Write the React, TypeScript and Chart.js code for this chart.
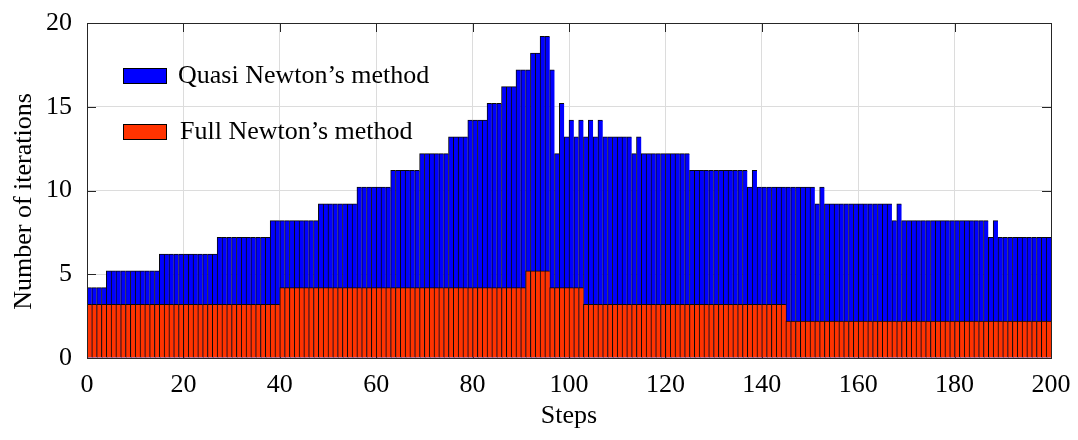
import React, { useEffect, useRef } from 'react';
import { Chart, registerables } from 'chart.js';

Chart.register(...registerables);

// Step labels (categories), 200 steps
const steps: string[] = Array.from({ length: 200 }, (_, i) => String(i + 1));

// Number of iterations per step
const quasiNewton: number[] = [
  4.2, 4.2, 4.2, 4.2, 5.2, 5.2, 5.2, 5.2, 5.2, 5.2,
  5.2, 5.2, 5.2, 5.2, 5.2, 6.2, 6.2, 6.2, 6.2, 6.2,
  6.2, 6.2, 6.2, 6.2, 6.2, 6.2, 6.2, 7.2, 7.2, 7.2,
  7.2, 7.2, 7.2, 7.2, 7.2, 7.2, 7.2, 7.2, 8.2, 8.2,
  8.2, 8.2, 8.2, 8.2, 8.2, 8.2, 8.2, 8.2, 9.2, 9.2,
  9.2, 9.2, 9.2, 9.2, 9.2, 9.2, 10.2, 10.2, 10.2, 10.2,
  10.2, 10.2, 10.2, 11.2, 11.2, 11.2, 11.2, 11.2, 11.2, 12.2,
  12.2, 12.2, 12.2, 12.2, 12.2, 13.2, 13.2, 13.2, 13.2, 14.2,
  14.2, 14.2, 14.2, 15.2, 15.2, 15.2, 16.2, 16.2, 16.2, 17.2,
  17.2, 17.2, 18.2, 18.2, 19.2, 19.2, 17.2, 12.2, 15.2, 13.2,
  14.2, 13.2, 14.2, 13.2, 14.2, 13.2, 14.2, 13.2, 13.2, 13.2,
  13.2, 13.2, 13.2, 12.2, 13.2, 12.2, 12.2, 12.2, 12.2, 12.2,
  12.2, 12.2, 12.2, 12.2, 12.2, 11.2, 11.2, 11.2, 11.2, 11.2,
  11.2, 11.2, 11.2, 11.2, 11.2, 11.2, 11.2, 10.2, 11.2, 10.2,
  10.2, 10.2, 10.2, 10.2, 10.2, 10.2, 10.2, 10.2, 10.2, 10.2,
  10.2, 9.2, 10.2, 9.2, 9.2, 9.2, 9.2, 9.2, 9.2, 9.2,
  9.2, 9.2, 9.2, 9.2, 9.2, 9.2, 9.2, 8.2, 9.2, 8.2,
  8.2, 8.2, 8.2, 8.2, 8.2, 8.2, 8.2, 8.2, 8.2, 8.2,
  8.2, 8.2, 8.2, 8.2, 8.2, 8.2, 8.2, 7.2, 8.2, 7.2,
  7.2, 7.2, 7.2, 7.2, 7.2, 7.2, 7.2, 7.2, 7.2, 7.2,
];

const fullNewton: number[] = [
  3.2, 3.2, 3.2, 3.2, 3.2, 3.2, 3.2, 3.2, 3.2, 3.2,
  3.2, 3.2, 3.2, 3.2, 3.2, 3.2, 3.2, 3.2, 3.2, 3.2,
  3.2, 3.2, 3.2, 3.2, 3.2, 3.2, 3.2, 3.2, 3.2, 3.2,
  3.2, 3.2, 3.2, 3.2, 3.2, 3.2, 3.2, 3.2, 3.2, 3.2,
  4.2, 4.2, 4.2, 4.2, 4.2, 4.2, 4.2, 4.2, 4.2, 4.2,
  4.2, 4.2, 4.2, 4.2, 4.2, 4.2, 4.2, 4.2, 4.2, 4.2,
  4.2, 4.2, 4.2, 4.2, 4.2, 4.2, 4.2, 4.2, 4.2, 4.2,
  4.2, 4.2, 4.2, 4.2, 4.2, 4.2, 4.2, 4.2, 4.2, 4.2,
  4.2, 4.2, 4.2, 4.2, 4.2, 4.2, 4.2, 4.2, 4.2, 4.2,
  4.2, 5.2, 5.2, 5.2, 5.2, 5.2, 4.2, 4.2, 4.2, 4.2,
  4.2, 4.2, 4.2, 3.2, 3.2, 3.2, 3.2, 3.2, 3.2, 3.2,
  3.2, 3.2, 3.2, 3.2, 3.2, 3.2, 3.2, 3.2, 3.2, 3.2,
  3.2, 3.2, 3.2, 3.2, 3.2, 3.2, 3.2, 3.2, 3.2, 3.2,
  3.2, 3.2, 3.2, 3.2, 3.2, 3.2, 3.2, 3.2, 3.2, 3.2,
  3.2, 3.2, 3.2, 3.2, 3.2, 2.2, 2.2, 2.2, 2.2, 2.2,
  2.2, 2.2, 2.2, 2.2, 2.2, 2.2, 2.2, 2.2, 2.2, 2.2,
  2.2, 2.2, 2.2, 2.2, 2.2, 2.2, 2.2, 2.2, 2.2, 2.2,
  2.2, 2.2, 2.2, 2.2, 2.2, 2.2, 2.2, 2.2, 2.2, 2.2,
  2.2, 2.2, 2.2, 2.2, 2.2, 2.2, 2.2, 2.2, 2.2, 2.2,
  2.2, 2.2, 2.2, 2.2, 2.2, 2.2, 2.2, 2.2, 2.2, 2.2,
];

const seriesLabels = ['Quasi Newton\u2019s method', 'Full Newton\u2019s method'];
const seriesColors = ['#0000ff', '#ff3300'];
const xAxisTitle = 'Steps';
const yAxisTitle = 'Number of iterations';
const xRange = [0, 200];
const xStep = 20;
const yRange = [0, 20];
const yStep = 5;

const FONT = "'Liberation Serif', 'Times New Roman', serif";
const AXIS_COLOR = '#262626';
const GRID_COLOR = '#dcdcdc';

const framePlugin = {
  id: 'frame',
  beforeDatasetsDraw(chart: any) {
    const { ctx, chartArea: a, scales } = chart;
    const len = 9;
    ctx.save();
    ctx.strokeStyle = AXIS_COLOR;
    ctx.lineWidth = 1;
    ctx.beginPath();
    scales.x.ticks.forEach((t: any) => {
      const px = Math.round(scales.x.getPixelForValue(t.value)) + 0.5;
      ctx.moveTo(px, a.top);
      ctx.lineTo(px, a.top + len);
      ctx.moveTo(px, a.bottom);
      ctx.lineTo(px, a.bottom - len);
    });
    scales.y.ticks.forEach((t: any) => {
      const py = Math.round(scales.y.getPixelForValue(t.value)) + 0.5;
      ctx.moveTo(a.left, py);
      ctx.lineTo(a.left + len, py);
      ctx.moveTo(a.right, py);
      ctx.lineTo(a.right - len, py);
    });
    ctx.stroke();
    ctx.restore();
  },
  afterDatasetsDraw(chart: any) {
    const { ctx, chartArea: a } = chart;
    ctx.save();
    ctx.strokeStyle = AXIS_COLOR;
    ctx.lineWidth = 1;
    ctx.strokeRect(Math.round(a.left) + 0.5, Math.round(a.top) + 0.5,
      Math.round(a.right) - Math.round(a.left), Math.round(a.bottom) - Math.round(a.top));

    // legend inside the plot, top-left
    const boxX = a.left + 36;
    const boxW = 43;
    const boxH = 15;
    const rows = [45, 101];
    ctx.font = `26px ${FONT}`;
    ctx.textBaseline = 'alphabetic';
    ctx.textAlign = 'left';
    seriesLabels.forEach((label, i) => {
      const y = a.top + rows[i];
      ctx.fillStyle = seriesColors[i];
      ctx.fillRect(boxX, y, boxW, boxH);
      ctx.strokeStyle = '#000';
      ctx.strokeRect(Math.round(boxX) + 0.5, Math.round(y) + 0.5, boxW, boxH);
      ctx.fillStyle = '#000';
      ctx.fillText(label, boxX + boxW + 12 + i * 2, y + boxH);
    });

    // y-axis title (slightly below the plot centre, as in the reference)
    ctx.translate(24.5, (a.top + a.bottom) / 2 + 11);
    ctx.rotate(-Math.PI / 2);
    ctx.textAlign = 'center';
    ctx.textBaseline = 'middle';
    ctx.font = `26px ${FONT}`;
    ctx.fillStyle = '#000';
    ctx.fillText(yAxisTitle, 0, 0);
    ctx.restore();
  },
};

export default function App() {
  const canvasRef = useRef<HTMLCanvasElement | null>(null);

  useEffect(() => {
    document.body.style.margin = '0';
    const canvas = canvasRef.current;
    if (!canvas) return;
    const chart = new Chart(canvas, {
      type: 'bar',
      data: {
        labels: steps,
        datasets: [
          {
            label: seriesLabels[0],
            data: quasiNewton,
            backgroundColor: seriesColors[0],
            borderColor: '#0a0a0a',
            borderWidth: { top: 1, left: 1, right: 0, bottom: 0 } as any,
            grouped: false,
            barPercentage: 1,
            categoryPercentage: 1,
            xAxisID: 'xc',
            order: 1,
          },
          {
            label: seriesLabels[1],
            data: fullNewton,
            backgroundColor: seriesColors[1],
            borderColor: '#0a0a0a',
            borderWidth: { top: 1, left: 1, right: 0, bottom: 0 } as any,
            grouped: false,
            barPercentage: 1,
            categoryPercentage: 1,
            xAxisID: 'xc',
            order: 0,
          },
        ],
      },
      options: {
        responsive: false,
        animation: false,
        devicePixelRatio: 1,
        layout: { padding: { top: 23, right: 27, left: 0, bottom: 0 } },
        plugins: {
          legend: { display: false },
          tooltip: { enabled: false },
        },
        scales: {
          xc: {
            type: 'category',
            display: false,
            offset: true,
            grid: { display: false },
          },
          x: {
            type: 'linear',
            position: 'bottom',
            offset: false,
            min: xRange[0],
            max: xRange[1],
            afterFit: (s: any) => { s.height = 82; },
            ticks: {
              stepSize: xStep,
              color: '#000',
              padding: 0,
              font: { family: FONT, size: 26 },
              maxRotation: 0,
            },
            grid: {
              color: GRID_COLOR, offset: false, drawTicks: true, tickLength: 12,
              tickColor: 'rgba(0,0,0,0)', lineWidth: 1,
            },
            border: { display: false },
            title: {
              display: true,
              text: xAxisTitle,
              color: '#000',
              font: { family: FONT, size: 26 },
              padding: { top: 0, bottom: 8 },
            },
          },
          y: {
            type: 'linear',
            min: yRange[0],
            max: yRange[1],
            afterFit: (s: any) => { s.width = 87; },
            ticks: {
              stepSize: yStep,
              color: '#000',
              padding: 0,
              font: { family: FONT, size: 26 },
            },
            grid: {
              color: GRID_COLOR, drawTicks: true, tickLength: 15,
              tickColor: 'rgba(0,0,0,0)', lineWidth: 1,
            },
            border: { display: false },
            title: { display: false, text: yAxisTitle },
          },
        },
      },
      plugins: [framePlugin],
    } as any);
    return () => chart.destroy();
  }, []);

  return (
    <div style={{ width: 1078, height: 440 }}>
      <canvas ref={canvasRef} width={1078} height={440} />
    </div>
  );
}
